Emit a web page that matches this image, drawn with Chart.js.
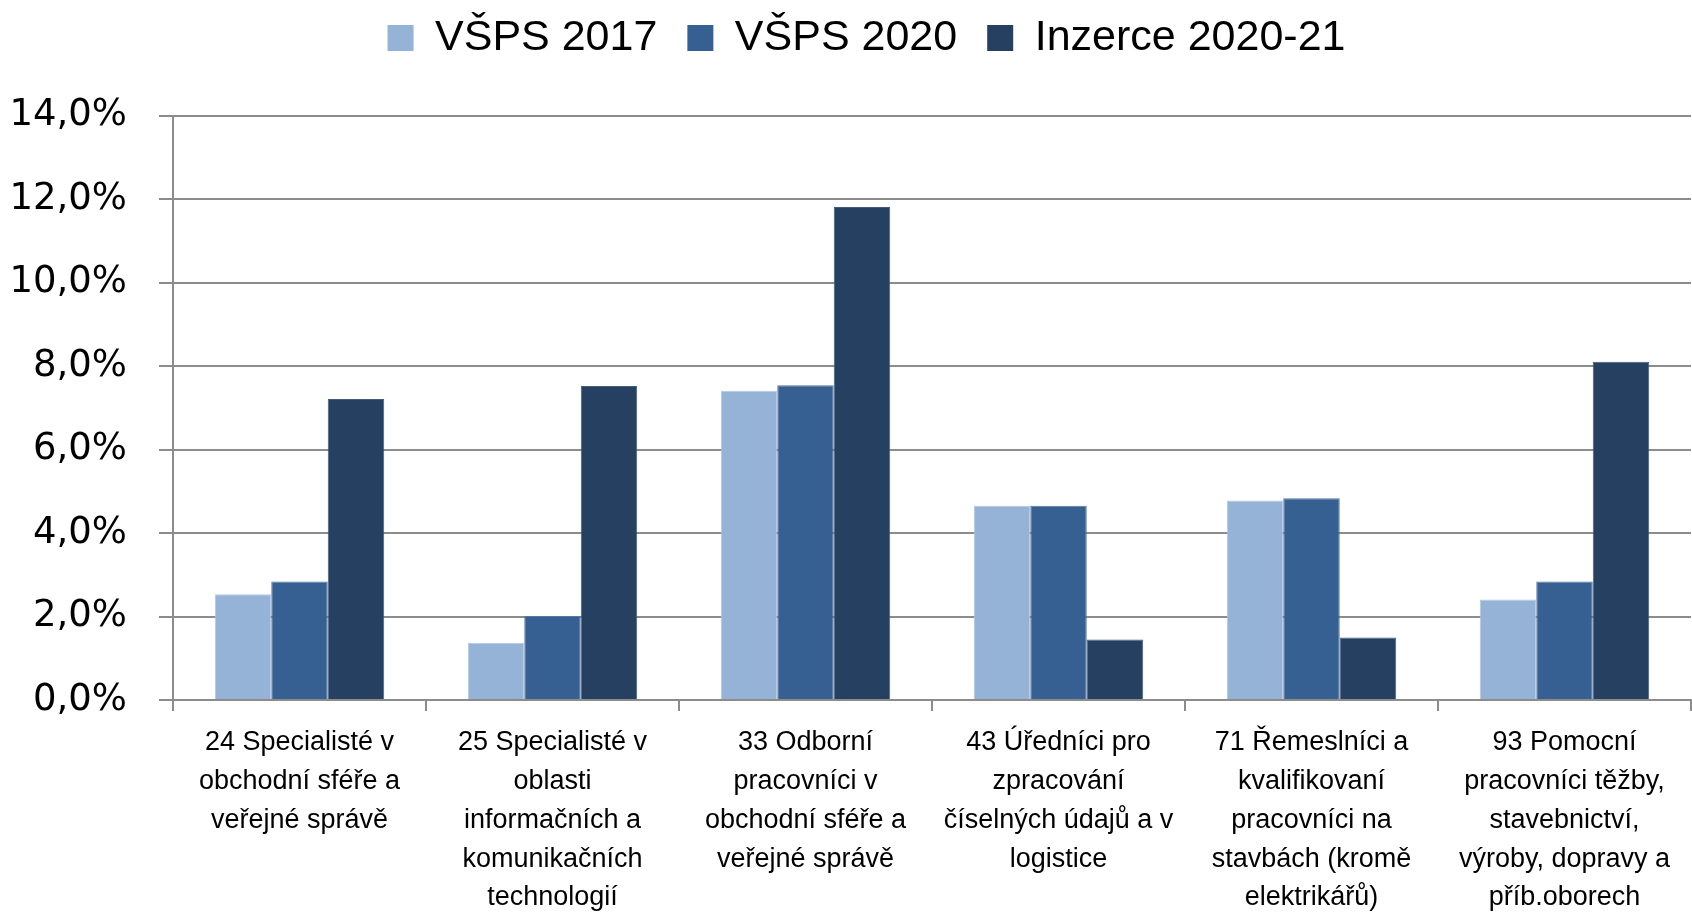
<!DOCTYPE html>
<html><head><meta charset="utf-8">
<script src="https://cdn.jsdelivr.net/npm/chart.js@4/dist/chart.umd.min.js"></script>
<style>html,body{margin:0;padding:0;background:#fff}#wrap{width:1692px;height:912px}</style>
</head><body><div id="wrap"><canvas id="c" width="1692" height="912"></canvas></div>
<script>
const categories = [
  ["24 Specialisté v","obchodní sféře a","veřejné správě"],
  ["25 Specialisté v","oblasti","informačních a","komunikačních","technologií"],
  ["33 Odborní","pracovníci v","obchodní sféře a","veřejné správě"],
  ["43 Úředníci pro","zpracování","číselných údajů a v","logistice"],
  ["71 Řemeslníci a","kvalifikovaní","pracovníci na","stavbách (kromě","elektrikářů)"],
  ["93 Pomocní","pracovníci těžby,","stavebnictví,","výroby, dopravy a","příb.oborech"]
];
const seriesNames = ["VŠPS 2017","VŠPS 2020","Inzerce 2020-21"];
const vsps2017 = [2.53, 1.37, 7.41, 4.65, 4.78, 2.41];
const vsps2020 = [2.84, 2.01, 7.54, 4.65, 4.83, 2.84];
const inzerce  = [7.21, 7.52, 11.81, 1.45, 1.50, 8.10];
const yTicks = [0, 2, 4, 6, 8, 10, 12, 14];

const sans = "'Liberation Sans', Arial, sans-serif";
const gridColor = '#8c8c8c';

const legendShift = {
  id: 'legendShift',
  afterLayout(chart) {
    const lg = chart.legend;
    const dx = 21, dy = -46;
    lg.left += dx; lg.right += dx;
    lg.top += dy; lg.bottom += dy;
  }
};

new Chart(document.getElementById('c'), {
  type: 'bar',
  data: {
    labels: categories,
    datasets: [
      {label: seriesNames[0], data: vsps2017, backgroundColor: '#95b3d7', borderColor: '#b4c8e2', borderWidth: 1},
      {label: seriesNames[1], data: vsps2020, backgroundColor: '#376092', borderColor: '#56789f', borderWidth: 1},
      {label: seriesNames[2], data: inzerce, backgroundColor: '#254061', borderColor: '#435c7c', borderWidth: 1}
    ]
  },
  options: {
    responsive: false,
    animation: false,
    devicePixelRatio: 1,
    layout: {padding: {top: 32.5, left: 0, right: 1, bottom: 0}},
    datasets: {bar: {categoryPercentage: 0.67, barPercentage: 1.0}},
    plugins: {
      legend: {
        position: 'top',
        labels: {
          font: {family: sans, size: 43},
          color: '#000',
          boxWidth: 26, boxHeight: 26,
          padding: 30,
          generateLabels(chart) {
            return chart.data.datasets.map((d, i) => ({
              text: d.label, fillStyle: d.backgroundColor, strokeStyle: d.backgroundColor,
              lineWidth: 0, hidden: false, datasetIndex: i, fontColor: '#000'
            }));
          }
        }
      },
      tooltip: {enabled: false}
    },
    scales: {
      x: {
        grid: {display: true, drawOnChartArea: false, drawTicks: true, tickLength: 11, color: gridColor, lineWidth: 2},
        border: {display: true, color: gridColor, width: 2},
        ticks: {font: {family: sans, size: 27, lineHeight: 1.44}, color: '#000', padding: 12, maxRotation: 0, autoSkip: false},
        afterFit(s) { s.height = 212; }
      },
      y: {
        min: 0, max: 14,
        afterBuildTicks(s) { s.ticks = yTicks.map(v => ({value: v})); },
        grid: {color: gridColor, lineWidth: 2, tickLength: 14, drawTicks: true},
        border: {display: true, color: gridColor, width: 2},
        ticks: {
          font: {family: "'DejaVu Sans', sans-serif", size: 37},
          color: '#000', padding: 32,
          callback: v => v.toFixed(1).replace('.', ',') + '%'
        },
        afterFit(s) { s.width = 173; }
      }
    }
  },
  plugins: [legendShift]
});
</script></body></html>
